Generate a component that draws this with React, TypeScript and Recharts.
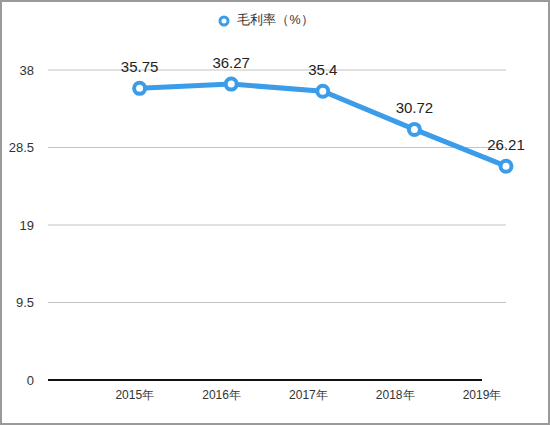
import React from "react";
import {
  LineChart,
  Line,
  XAxis,
  YAxis,
  ReferenceLine,
  Legend,
  LabelList,
} from "recharts";

const years = ["2015年", "2016年", "2017年", "2018年", "2019年"];
const grossMargin = [35.75, 36.27, 35.4, 30.72, 26.21];
const yTicks = [0, 9.5, 19, 28.5, 38];
const seriesName = "毛利率（%）";

const BLUE = "#3b9de9";
const FONT = "'Liberation Sans', Arial, Helvetica, sans-serif";

const data = years.map((year, i) => ({ pos: i + 1, year, value: grossMargin[i] }));

function LegendContent() {
  return (
    <div
      style={{
        display: "flex",
        justifyContent: "center",
        alignItems: "center",
        paddingLeft: 24,
        fontFamily: FONT,
        fontSize: 12.5,
        color: "#333",
      }}
    >
      <svg width={16} height={16} style={{ marginRight: 5 }}>
        <circle cx={8} cy={8} r={4} fill="#fff" stroke={BLUE} strokeWidth={3} />
      </svg>
      <span>{seriesName}</span>
    </div>
  );
}

export default function App() {
  return (
    <div style={{ position: "absolute", left: 0, top: 0, width: 550, height: 425, background: "#fff" }}>
      <LineChart
        width={550}
        height={425}
        data={data}
        margin={{ top: 12, right: 44, left: 0, bottom: 15 }}
      >
        <Legend verticalAlign="top" height={58} content={<LegendContent />} />
        {/* line axis: full plot width */}
        <XAxis xAxisId="line" type="number" dataKey="pos" domain={[0, 5]} hide />
        {/* label axis: a bit shorter, like the original */}
        <XAxis
          xAxisId="labels"
          type="number"
          dataKey="pos"
          domain={[0, 5]}
          ticks={[1, 2, 3, 4, 5]}
          tickFormatter={(v: number) => years[v - 1]}
          padding={{ left: 0, right: 24 }}
          axisLine={false}
          tickLine={false}
          tickMargin={4}
          height={30}
          tick={{ fill: "#333", fontSize: 12, fontFamily: FONT }}
          interval={0}
        />
        <YAxis
          domain={[0, 38]}
          ticks={yTicks}
          width={48}
          axisLine={false}
          tickLine={false}
          tickMargin={8}
          tick={{ fill: "#333", fontSize: 13, fontFamily: FONT }}
        />
        {yTicks
          .filter((t) => t > 0)
          .map((t) => (
            <ReferenceLine key={t} xAxisId="line" y={t} stroke="#c4c4c4" strokeWidth={1} />
          ))}
        <ReferenceLine
          xAxisId="labels"
          segment={[
            { x: 0, y: 0 },
            { x: 5, y: 0 },
          ]}
          stroke="#111"
          strokeWidth={2}
        />
        <Line
          xAxisId="line"
          dataKey="value"
          name={seriesName}
          stroke={BLUE}
          strokeWidth={5}
          dot={{ r: 5.5, fill: "#fff", stroke: BLUE, strokeWidth: 4 }}
          activeDot={false}
          isAnimationActive={false}
        >
          <LabelList
            dataKey="value"
            position="top"
            offset={16}
            style={{ fill: "#222", fontSize: 15, fontFamily: FONT }}
          />
        </Line>
      </LineChart>
      <div
        style={{
          position: "absolute",
          inset: 0,
          border: "2px solid #9a9a9a",
          boxSizing: "border-box",
          pointerEvents: "none",
        }}
      />
    </div>
  );
}
